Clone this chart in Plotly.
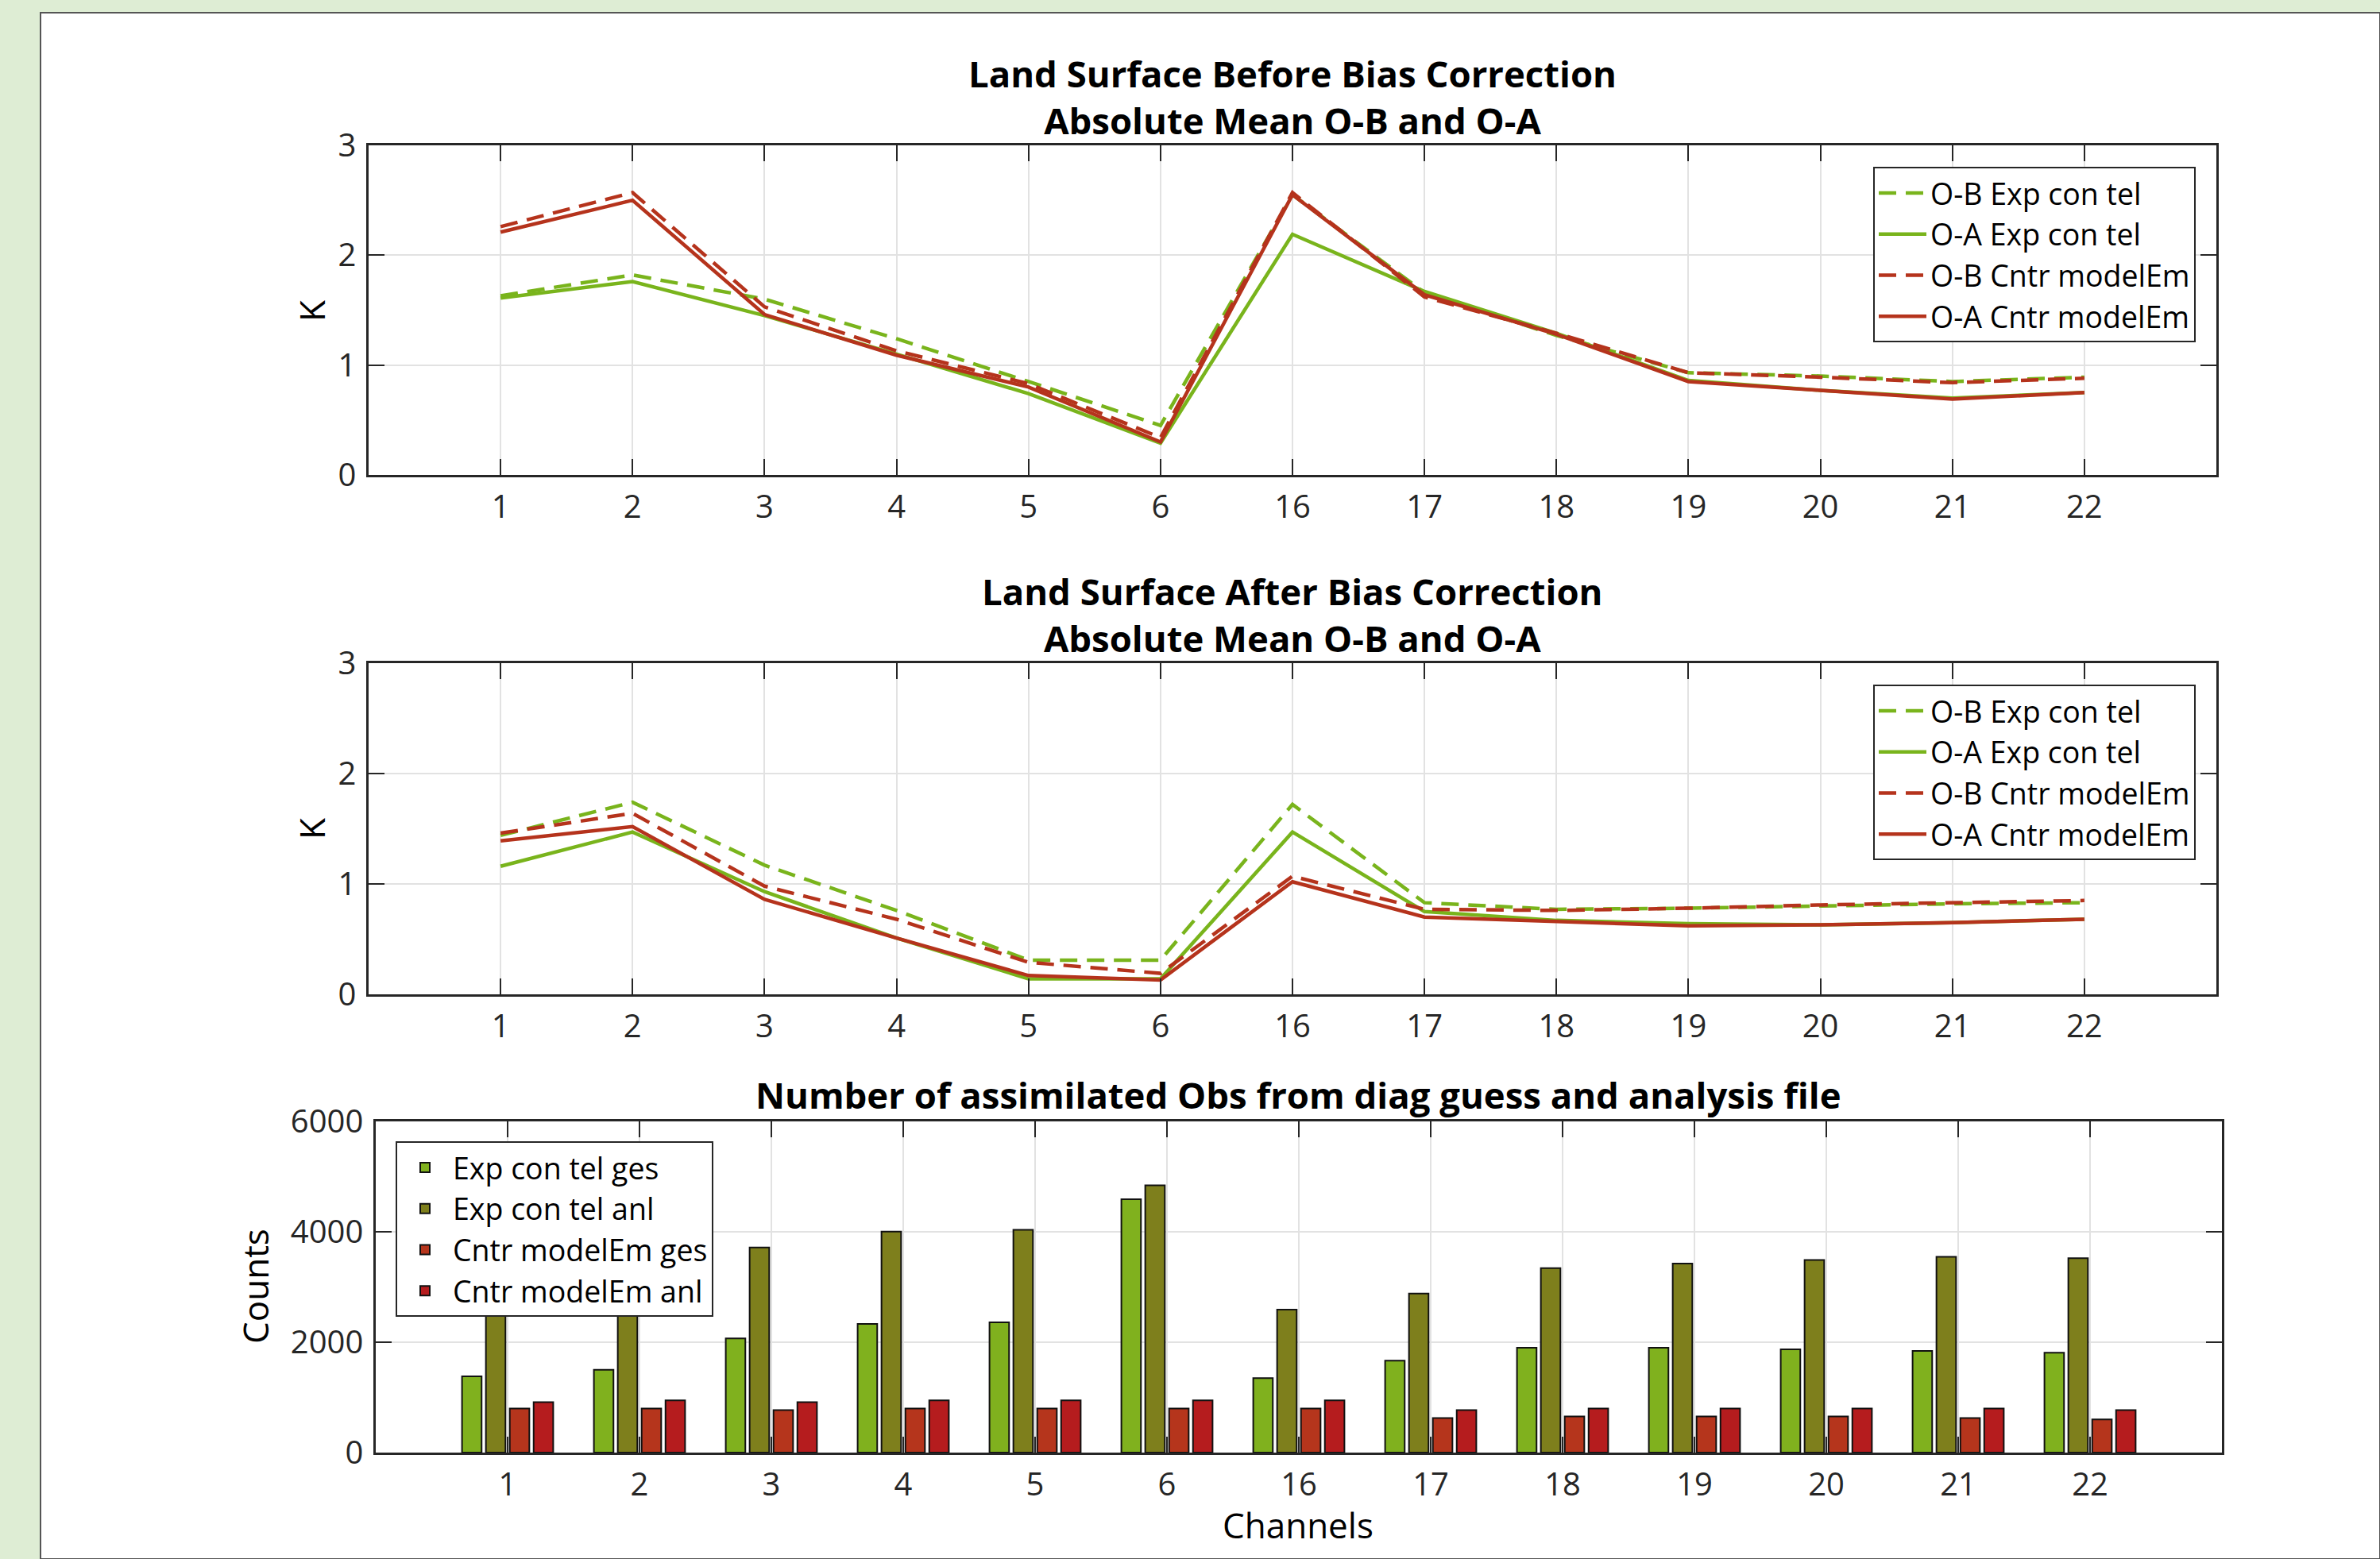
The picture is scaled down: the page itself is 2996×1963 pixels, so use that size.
import plotly.graph_objects as go

W, H = 2996, 1963

channels = ["1", "2", "3", "4", "5", "6", "16", "17", "18", "19", "20", "21", "22"]

# Land Surface Before Bias Correction
ob_exp_before = [1.63, 1.82, 1.60, 1.24, 0.85, 0.45, 2.55, 1.66, 1.27, 0.93, 0.90, 0.85, 0.89]
oa_exp_before = [1.61, 1.76, 1.45, 1.10, 0.74, 0.29, 2.19, 1.67, 1.29, 0.86, 0.77, 0.70, 0.75]
ob_cntr_before = [2.26, 2.57, 1.53, 1.13, 0.83, 0.34, 2.57, 1.62, 1.29, 0.93, 0.89, 0.84, 0.88]
oa_cntr_before = [2.21, 2.50, 1.46, 1.09, 0.80, 0.30, 2.55, 1.64, 1.28, 0.85, 0.77, 0.69, 0.75]

# Land Surface After Bias Correction
ob_exp_after = [1.44, 1.74, 1.17, 0.76, 0.31, 0.31, 1.72, 0.83, 0.77, 0.78, 0.80, 0.82, 0.83]
oa_exp_after = [1.16, 1.47, 0.93, 0.51, 0.14, 0.14, 1.47, 0.75, 0.67, 0.64, 0.63, 0.65, 0.68]
ob_cntr_after = [1.46, 1.64, 0.98, 0.68, 0.29, 0.19, 1.07, 0.77, 0.76, 0.78, 0.81, 0.83, 0.85]
oa_cntr_after = [1.39, 1.52, 0.86, 0.51, 0.17, 0.13, 1.02, 0.70, 0.66, 0.62, 0.63, 0.65, 0.68]

# Number of assimilated obs
exp_ges = [1380, 1500, 2070, 2330, 2360, 4590, 1350, 1665, 1900, 1900, 1870, 1840, 1810]
exp_anl = [2570, 2760, 3715, 4005, 4035, 4840, 2590, 2880, 3340, 3425, 3490, 3545, 3520]
cntr_ges = [800, 800, 770, 800, 800, 800, 800, 625, 655, 655, 655, 625, 600]
cntr_anl = [915, 945, 915, 945, 945, 945, 945, 770, 800, 800, 800, 800, 770]

line_names = ["O-B Exp con tel", "O-A Exp con tel", "O-B Cntr modelEm", "O-A Cntr modelEm"]
bar_names = ["Exp con tel ges", "Exp con tel anl", "Cntr modelEm ges", "Cntr modelEm anl"]

GREEN = "#79b41c"
RED = "#b5331c"
BAR_COLORS = ["#80b11e", "#7e7f1c", "#b5351c", "#b51c1e"]
FONT = "Open Sans"
AXC = "#262626"

xpos = list(range(1, len(channels) + 1))

fig = go.Figure()

def add_lines(series, xa, ya, leg):
    styles = [(GREEN, "22px,12px"), (GREEN, "solid"), (RED, "22px,12px"), (RED, "solid")]
    for name, ys, (c, d) in zip(line_names, series, styles):
        fig.add_trace(go.Scatter(x=xpos, y=ys, mode="lines", name=name,
                                 line=dict(color=c, width=4.5, dash=d),
                                 xaxis=xa, yaxis=ya, legend=leg))

add_lines([ob_exp_before, oa_exp_before, ob_cntr_before, oa_cntr_before], "x", "y", "legend")
add_lines([ob_exp_after, oa_exp_after, ob_cntr_after, oa_cntr_after], "x2", "y2", "legend2")

for name, ys, c in zip(bar_names, [exp_ges, exp_anl, cntr_ges, cntr_anl], BAR_COLORS):
    fig.add_trace(go.Bar(x=xpos, y=ys, name=name, marker=dict(color=c, line=dict(color="#111111", width=2)),
                         xaxis="x3", yaxis="y3", legend="legend3"))

def px_x(p):
    return p / W

def px_y(p):
    return 1 - p / H

axis_common = dict(showline=True, linecolor=AXC, linewidth=2.5, mirror="ticks", ticks="inside",
                   ticklen=20, tickwidth=2, tickcolor=AXC, showgrid=True, gridcolor="#e2e2e2",
                   gridwidth=2, zeroline=False, automargin=False,
                   tickfont=dict(family=FONT, size=40, color=AXC))

xcommon = dict(axis_common, range=[0, 14], tickvals=xpos, ticktext=channels, ticklabelstandoff=3)
ycommon = dict(axis_common, ticklabelstandoff=5)

fig.update_layout(
    template="none",
    width=W, height=H, autosize=False,
    margin=dict(l=0, r=0, t=0, b=0, pad=0, autoexpand=False),
    paper_bgcolor="#deedd4",
    plot_bgcolor="white",
    barmode="group", bargap=0.276, bargroupgap=0.18,
    font=dict(family=FONT, color="black"),
    xaxis=dict(xcommon, domain=[px_x(464), px_x(2790)], anchor="y"),
    yaxis=dict(ycommon, domain=[px_y(598), px_y(183)], range=[0, 3], dtick=1, anchor="x"),
    xaxis2=dict(xcommon, domain=[px_x(464), px_x(2790)], anchor="y2"),
    yaxis2=dict(ycommon, domain=[px_y(1252), px_y(835)], range=[0, 3], dtick=1, anchor="x2"),
    xaxis3=dict(xcommon, domain=[px_x(473), px_x(2797)], anchor="y3"),
    yaxis3=dict(ycommon, domain=[px_y(1829), px_y(1412)], range=[0, 6000], dtick=2000, anchor="x3"),
    showlegend=True,
)

leg_common = dict(bgcolor="white", bordercolor=AXC, borderwidth=2,
                  font=dict(family=FONT, size=37.5, color="black"), itemwidth=60,
                  xref="paper", yref="paper", tracegroupgap=0)
fig.update_layout(
    legend=dict(leg_common, x=px_x(2764), y=px_y(210), xanchor="right", yanchor="top"),
    legend2=dict(leg_common, x=px_x(2764), y=px_y(862), xanchor="right", yanchor="top"),
    legend3=dict(leg_common, x=px_x(498), y=px_y(1437), xanchor="left", yanchor="top"),
)

# page panel (white area with dark border)
fig.add_shape(type="rect", xref="paper", yref="paper", x0=px_x(51), x1=1.0, y0=0.0, y1=px_y(16),
              fillcolor="white", line=dict(color="#555555", width=2), layer="below")

def ann(text, x, y, size, bold=False, angle=0):
    if bold:
        text = "<br>".join("<b>%s</b>" % t for t in text.split("\n"))
    fig.add_annotation(text=text, xref="paper", yref="paper",
                       x=px_x(x), y=px_y(y), xanchor="center", yanchor="middle", showarrow=False,
                       textangle=angle, font=dict(family=FONT, size=size, color="black"))

ann("Land Surface Before Bias Correction\nAbsolute Mean O-B and O-A", 1627, 121.5, 45.5, bold=True)
ann("Land Surface After Bias Correction\nAbsolute Mean O-B and O-A", 1627, 773, 45.5, bold=True)
ann("Number of assimilated Obs from diag guess and analysis file", 1634, 1378, 45.5, bold=True)
ann("K", 392, 391, 44, angle=-90)
ann("K", 392, 1043, 44, angle=-90)
ann("Counts", 321, 1620, 44, angle=-90)
ann("Channels", 1634, 1920, 44)

fig.write_html("out.html", config={"displayModeBar": False},
               post_script="document.body.style.margin='0px';document.body.style.overflow='hidden';")
